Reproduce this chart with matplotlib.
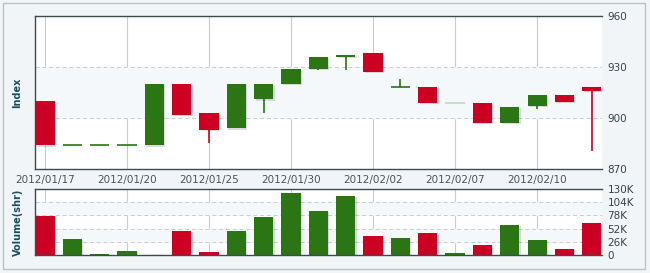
import matplotlib.pyplot as plt
import numpy as np
from matplotlib.patches import Rectangle
import matplotlib.patheffects as pe

# daily OHLC of the index
opens = [910, 884, 884, 884, 884, 920, 903, 894, 911, 920, 929, 936, 938, 918, 918, 909, 909, 897, 907, 913.5, 918]
closes = [884, 884, 884, 884, 920, 902, 893, 920, 920, 929, 936, 937, 927, 918, 909, 909, 897, 906.5, 913.5, 909.5, 916]
highs = [910, 884, 884, 884, 920, 920, 903, 920, 920, 929, 936, 937, 938, 923, 918, 909, 909, 906.5, 913.5, 913.5, 918]
lows = [884, 884, 884, 884, 884, 902, 885, 894, 903, 920, 928, 928, 927, 918, 909, 909, 897, 897, 905, 909.5, 880.5]
volumes = [77, 32, 2, 8, 0.6, 48, 6, 47, 75, 122, 87, 116, 37, 33.5, 43, 3, 20, 59, 29.5, 12, 63]  # thousands

date_idx = [0, 3, 6, 9, 12, 15, 18]
date_labels = ["2012/01/17", "2012/01/20", "2012/01/25", "2012/01/30",
               "2012/02/02", "2012/02/07", "2012/02/10"]
price_ticks = [870, 900, 930, 960]
vol_ticks = [0, 26, 52, 78, 104, 130]
vol_labels = ["0", "26K", "52K", "78K", "104K", "130K"]

faint_days = [15]
faint_volume = [4]

RED = "#cc0022"
GREEN = "#2b7515"
SPINE = "#3b4b52"
TEAL = "#1d4d5b"

fig = plt.figure(figsize=(6.5, 2.73), dpi=100)
fig.patch.set_facecolor("#f1f5f7")
fig.add_artist(Rectangle((0.004, 0.015), 0.988, 0.975, transform=fig.transFigure,
                         fill=False, edgecolor="#b9c2c6", lw=1))

ax1 = fig.add_axes([0.0538, 0.381, 0.872, 0.5604])
ax2 = fig.add_axes([0.0538, 0.0659, 0.872, 0.2418], sharex=ax1)

n = len(opens)
x = np.arange(n)
w = 0.7
shadow = [pe.SimplePatchShadow(offset=(1, -1), alpha=0.15), pe.Normal()]

for ax in (ax1, ax2):
    ax.set_facecolor("white")
    ax.spines["right"].set_visible(False)
    for s in ("left", "top", "bottom"):
        ax.spines[s].set_color(SPINE)
        ax.spines[s].set_linewidth(1)
    for i in date_idx:
        ax.axvline(i, color="#bcd0d8", lw=0.8, zorder=0)
    ax.yaxis.tick_right()
    ax.tick_params(axis="y", length=0, pad=4, labelsize=7.5, labelcolor="#34444a")
    ax.tick_params(axis="x", length=0)

# price panel
ax1.set_xlim(-0.366, n - 1 + 0.366)
ax1.set_ylim(870, 960)
ax1.axhspan(900, 930, color="#f5f8fa", zorder=0)
for v in (900, 930):
    ax1.axhline(v, color="#c8cccf", lw=0.7, ls=(0, (4, 3)), zorder=1)
ax1.set_yticks(price_ticks)
ax1.set_yticklabels([str(t) for t in price_ticks])
ax1.set_ylabel("Index", fontsize=7, fontweight="bold", color=TEAL, labelpad=4)
ax1.yaxis.set_label_position("left")

for i in range(n):
    o, c, h, l = opens[i], closes[i], highs[i], lows[i]
    col = GREEN if c >= o else RED
    alpha = 0.25 if i in faint_days else 1
    ax1.vlines(i, l, h, color=col, lw=1.2, alpha=alpha, zorder=2)
    if o == c:
        ax1.hlines(o, i - w / 2, i + w / 2, color=col, lw=1.2, alpha=alpha, zorder=3)
    else:
        rect = Rectangle((i - w / 2, min(o, c)), w, abs(c - o), facecolor=col,
                         edgecolor="none", alpha=alpha, zorder=3)
        rect.set_path_effects(shadow)
        ax1.add_patch(rect)

ax1.set_xticks(date_idx)
ax1.set_xticklabels(date_labels, fontsize=7.5, color="#4a5458")
ax1.tick_params(axis="x", pad=4)

# volume panel
ax2.set_ylim(0, 130)
for lo, hi in ((78, 104), (26, 52)):
    ax2.axhspan(lo, hi, color="#f5f8fa", zorder=0)
for v in vol_ticks[1:-1]:
    ax2.axhline(v, color="#c8cccf", lw=0.7, ls=(0, (4, 3)), zorder=1)
ax2.set_yticks(vol_ticks)
ax2.set_yticklabels(vol_labels)
ax2.set_ylabel("Volume(shr)", fontsize=7, fontweight="bold", color=TEAL, labelpad=4)
ax2.yaxis.set_label_position("left")
ax2.tick_params(axis="x", labelbottom=False)

vcols = [GREEN if closes[i] >= opens[i] else RED for i in range(n)]
bars = ax2.bar(x, volumes, width=w, color=vcols, zorder=2)
for i, b in enumerate(bars):
    b.set_path_effects(shadow)
    if i in faint_volume:
        b.set_color("#c8cfd2")

ax1.yaxis.set_label_coords(-0.022, 0.5)
ax2.yaxis.set_label_coords(-0.022, 0.5)

fig.savefig("out.png", dpi=100, facecolor=fig.get_facecolor())
